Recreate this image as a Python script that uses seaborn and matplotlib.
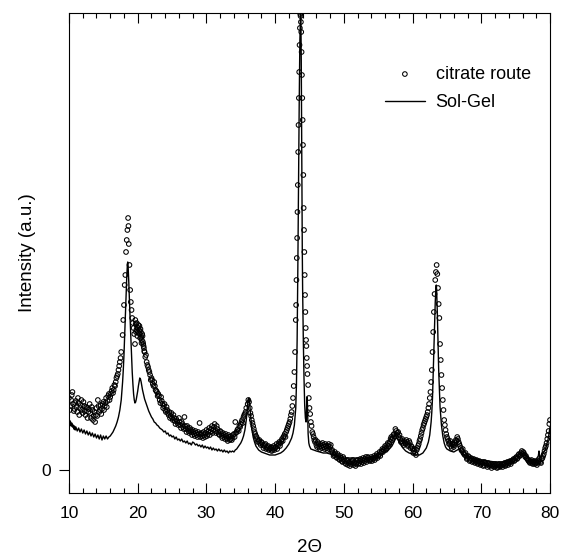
import matplotlib
matplotlib.use("Agg")
import matplotlib.pyplot as plt
import seaborn as sns
from matplotlib.ticker import FixedLocator, MultipleLocator, NullLocator

# ---------------- data ----------------
x_ticks = [10, 20, 30, 40, 50, 60, 70, 80]
y_ticks = [0]
y_tick_labels = ["0"]

# citrate route: scan points (main set)
citrate_2theta = [
    10.0, 10.2, 10.4, 10.6, 10.8, 11.0, 11.2, 11.4, 11.6, 11.8,
    12.0, 12.2, 12.4, 12.6, 12.8, 13.0, 13.2, 13.4, 13.6, 13.8,
    14.0, 14.2, 14.4, 14.6, 14.8, 15.0, 15.2, 15.4, 15.6, 15.8,
    16.0, 16.2, 16.4, 16.6, 16.8, 17.0, 17.2, 17.4, 17.6, 17.8,
    17.9, 18.0, 18.1, 18.2, 18.3, 18.4, 18.5, 18.6, 18.65, 18.7,
    18.8, 18.9, 19.0, 19.1, 19.2, 19.3, 19.4, 19.5, 19.6, 19.7,
    19.8, 19.9, 20.0, 20.1, 20.2, 20.3, 20.4, 20.5, 20.6, 20.7,
    20.8, 20.9, 21.0, 21.1, 21.2, 21.3, 21.4, 21.6, 21.8, 22.0,
    22.2, 22.4, 22.6, 22.8, 23.0, 23.2, 23.4, 23.6, 23.8, 24.0,
    24.2, 24.4, 24.6, 24.8, 25.0, 25.2, 25.4, 25.6, 25.8, 26.0,
    26.2, 26.4, 26.6, 26.8, 27.0, 27.2, 27.4, 27.6, 27.8, 28.0,
    28.2, 28.4, 28.6, 28.8, 29.0, 29.2, 29.4, 29.6, 29.8, 30.0,
    30.2, 30.4, 30.6, 30.8, 31.0, 31.2, 31.4, 31.6, 31.8, 32.0,
    32.2, 32.4, 32.6, 32.8, 33.0, 33.2, 33.4, 33.6, 33.8, 34.0,
    34.2, 34.4, 34.6, 34.8, 35.0, 35.2, 35.4, 35.6, 35.8, 36.0,
    36.1, 36.2, 36.3, 36.4, 36.6, 36.8, 37.0, 37.2, 37.4, 37.6,
    37.8, 38.0, 38.2, 38.4, 38.6, 38.8, 39.0, 39.2, 39.4, 39.6,
    39.8, 40.0, 40.2, 40.4, 40.6, 40.8, 41.0, 41.2, 41.4, 41.6,
    41.8, 42.0, 42.2, 42.4, 42.5, 42.6, 42.7, 42.8, 42.9, 43.0,
    43.05, 43.1, 43.15, 43.2, 43.25, 43.3, 43.35, 43.4, 43.45, 43.5,
    43.55, 43.6, 43.65, 43.7, 43.75, 43.8, 43.85, 43.9, 43.95, 44.0,
    44.05, 44.1, 44.15, 44.2, 44.25, 44.3, 44.35, 44.4, 44.45, 44.5,
    44.55, 44.6, 44.65, 44.7, 44.8, 44.9, 45.0, 45.1, 45.2, 45.3,
    45.4, 45.6, 45.8, 46.0, 46.2, 46.4, 46.6, 46.8, 47.0, 47.2,
    47.4, 47.6, 47.8, 48.0, 48.2, 48.4, 48.6, 48.8, 49.0, 49.2,
    49.4, 49.6, 49.8, 50.0, 50.2, 50.4, 50.6, 50.8, 51.0, 51.2,
    51.4, 51.6, 51.8, 52.0, 52.2, 52.4, 52.6, 52.8, 53.0, 53.2,
    53.4, 53.6, 53.8, 54.0, 54.2, 54.4, 54.6, 54.8, 55.0, 55.2,
    55.4, 55.6, 55.8, 56.0, 56.2, 56.4, 56.6, 56.8, 57.0, 57.2,
    57.4, 57.6, 57.8, 58.0, 58.2, 58.4, 58.6, 58.8, 59.0, 59.2,
    59.4, 59.6, 59.8, 60.0, 60.2, 60.4, 60.6, 60.8, 61.0, 61.2,
    61.4, 61.6, 61.8, 62.0, 62.2, 62.4, 62.6, 62.7, 62.8, 62.9,
    63.0, 63.1, 63.2, 63.3, 63.4, 63.5, 63.6, 63.7, 63.8, 63.9,
    64.0, 64.1, 64.2, 64.3, 64.4, 64.5, 64.6, 64.8, 65.0, 65.2,
    65.4, 65.6, 65.8, 66.0, 66.2, 66.4, 66.6, 66.8, 67.0, 67.2,
    67.4, 67.6, 67.8, 68.0, 68.2, 68.4, 68.6, 68.8, 69.0, 69.2,
    69.4, 69.6, 69.8, 70.0, 70.2, 70.4, 70.6, 70.8, 71.0, 71.2,
    71.4, 71.6, 71.8, 72.0, 72.2, 72.4, 72.6, 72.8, 73.0, 73.2,
    73.4, 73.6, 73.8, 74.0, 74.2, 74.4, 74.6, 74.8, 75.0, 75.2,
    75.4, 75.6, 75.8, 76.0, 76.2, 76.4, 76.6, 76.8, 77.0, 77.2,
    77.4, 77.6, 77.8, 78.0, 78.2, 78.4, 78.6, 78.8, 79.0, 79.2,
    79.4, 79.6, 79.8, 79.9, 80.0,
]
citrate_counts = [
    72, 64, 75, 66, 61, 69, 58, 67, 62, 70,
    57, 64, 55, 62, 58, 66, 52, 60, 54, 48,
    62, 70, 58, 65, 61, 68, 64, 72, 69, 76,
    73, 79, 77, 85, 88, 94, 100, 108, 118, 135,
    150, 165, 185, 195, 218, 230, 240, 252, 244, 226,
    205, 180, 168, 160, 152, 147, 142, 136, 126, 146,
    140, 143, 138, 145, 140, 136, 141, 133, 130, 134,
    126, 122, 118, 113, 115, 108, 105, 100, 95, 92,
    86, 88, 80, 78, 76, 70, 73, 66, 64, 60,
    63, 57, 58, 54, 52, 55, 49, 51, 47, 52,
    45, 48, 43, 53, 41, 44, 39, 42, 38, 40,
    36, 39, 35, 38, 47, 36, 34, 38, 33, 40,
    36, 42, 38, 44, 40, 46, 37, 41, 36, 39,
    34, 37, 33, 36, 31, 35, 30, 34, 32, 36,
    48, 38, 41, 44, 46, 50, 53, 56, 62, 66,
    70, 68, 62, 57, 50, 44, 38, 34, 31, 29,
    27, 28, 25, 24, 26, 22, 24, 21, 23, 20,
    24, 22, 26, 24, 28, 27, 31, 33, 36, 38,
    42, 46, 51, 58, 64, 72, 84, 98, 118, 150,
    165, 190, 212, 232, 258, 285, 318, 345, 372, 398,
    425, 442, 456, 454, 448, 438, 418, 395, 372, 350,
    325, 295, 262, 240, 218, 195, 175, 158, 142, 130,
    124, 112, 104, 96, 85, 72, 62, 56, 48, 44,
    38, 33, 28, 25, 28, 23, 26, 22, 25, 21,
    24, 20, 26, 23, 19, 17, 15, 16, 12, 14,
    10, 12, 8, 11, 7, 9, 5, 8, 6, 9,
    5, 8, 6, 10, 7, 11, 8, 12, 9, 13,
    10, 12, 9, 13, 11, 14, 12, 16, 14, 18,
    17, 21, 20, 24, 22, 27, 26, 31, 30, 35,
    34, 39, 37, 33, 31, 29, 27, 29, 26, 28,
    25, 27, 24, 21, 19, 17, 20, 24, 29, 34,
    40, 45, 49, 53, 58, 66, 78, 88, 100, 118,
    138, 158, 176, 190, 198, 205, 196, 182, 166, 152,
    126, 110, 95, 82, 70, 60, 50, 40, 33, 29,
    27, 24, 26, 23, 27, 29, 31, 26, 22, 19,
    17, 15, 14, 12, 13, 10, 11, 9, 10, 8,
    9, 7, 8, 6, 8, 5, 7, 5, 7, 4,
    6, 4, 6, 4, 5, 3, 6, 4, 6, 5,
    7, 5, 8, 7, 9, 8, 10, 9, 12, 11,
    15, 14, 17, 16, 17, 13, 12, 10, 8, 9,
    7, 8, 6, 8, 7, 9, 8, 11, 14, 19,
    24, 31, 39, 46, 50,
]

# citrate route: intermediate scan points in the noisy background
citrate_2theta_b = [
    10.1, 10.3, 10.5, 10.7, 10.9, 11.1, 11.3, 11.5, 11.7, 11.9,
    12.1, 12.3, 12.5, 12.7, 12.9, 13.1, 13.3, 13.5, 13.7, 13.9,
    14.1, 14.3, 14.5, 14.7, 14.9, 15.1, 15.3, 15.5, 15.7, 15.9,
    16.1, 16.3, 16.5, 16.7, 16.9, 17.1, 17.3, 17.5, 19.65, 19.75,
    19.85, 19.95, 20.05, 20.15, 20.25, 20.35, 20.45, 20.55, 20.65, 20.75,
    20.85, 20.95, 21.5, 21.7, 21.9, 22.1, 22.3, 22.5, 22.7, 22.9,
    23.1, 23.3, 23.5, 23.7, 23.9, 24.1, 24.3, 24.5, 24.7, 24.9,
    25.1, 25.3, 25.5, 25.7, 25.9, 26.1, 26.3, 26.5, 26.7, 26.9,
    27.1, 27.3, 27.5, 27.7, 27.9, 28.1, 28.3, 28.5, 28.7, 28.9,
    29.1, 29.3, 29.5, 29.7, 29.9, 30.1, 30.3, 30.5, 30.7, 30.9,
    31.1, 31.3, 31.5, 31.7, 31.9, 32.1, 32.3, 32.5, 32.7, 32.9,
    33.1, 33.3, 33.5, 33.7, 33.9, 34.1, 34.3, 34.5, 34.7, 34.9,
    35.1, 35.3, 35.5, 35.7, 36.5, 36.7, 36.9, 37.1, 37.3, 37.5,
    37.7, 37.9, 38.1, 38.3, 38.5, 38.7, 38.9, 39.1, 39.3, 39.5,
    39.7, 39.9, 40.1, 40.3, 40.5, 40.7, 40.9, 41.1, 41.3, 41.5,
    41.7, 41.9, 42.1, 42.3, 45.5, 45.7, 45.9, 46.1, 46.3, 46.5,
    46.7, 46.9, 47.1, 47.3, 47.5, 47.7, 47.9, 48.1, 48.3, 48.5,
    48.7, 48.9, 49.1, 49.3, 49.5, 49.7, 49.9, 50.1, 50.3, 50.5,
    50.7, 50.9, 51.1, 51.3, 51.5, 51.7, 51.9, 52.1, 52.3, 52.5,
    52.7, 52.9, 53.1, 53.3, 53.5, 53.7, 53.9, 54.1, 54.3, 54.5,
    54.7, 54.9, 55.1, 55.3, 55.5, 55.7, 55.9, 56.1, 56.3, 56.5,
    56.7, 56.9, 57.1, 57.3, 57.5, 57.7, 57.9, 58.1, 58.3, 58.5,
    58.7, 58.9, 59.1, 59.3, 59.5, 59.7, 59.9, 60.1, 60.3, 60.5,
    60.7, 60.9, 61.1, 61.3, 61.5, 61.7, 61.9, 62.1, 62.3, 62.5,
    64.7, 64.9, 65.1, 65.3, 65.5, 65.7, 65.9, 66.1, 66.3, 66.5,
    66.7, 66.9, 67.1, 67.3, 67.5, 67.7, 67.9, 68.1, 68.3, 68.5,
    68.7, 68.9, 69.1, 69.3, 69.5, 69.7, 69.9, 70.1, 70.3, 70.5,
    70.7, 70.9, 71.1, 71.3, 71.5, 71.7, 71.9, 72.1, 72.3, 72.5,
    72.7, 72.9, 73.1, 73.3, 73.5, 73.7, 73.9, 74.1, 74.3, 74.5,
    74.7, 74.9, 75.1, 75.3, 75.5, 75.7, 75.9, 76.1, 76.3, 76.5,
    76.7, 76.9, 77.1, 77.3, 77.5, 77.7, 77.9, 78.1, 78.3, 78.5,
    78.7, 78.9, 79.1, 79.3, 79.5, 79.7,
]
citrate_counts_b = [
    60, 70, 78, 59, 67, 63, 72, 55, 65, 60,
    68, 59, 63, 52, 61, 57, 63, 50, 58, 55,
    54, 64, 60, 56, 66, 60, 67, 63, 74, 70,
    76, 82, 80, 84, 92, 96, 104, 112, 150, 138,
    147, 134, 142, 137, 144, 132, 138, 127, 136, 128,
    124, 119, 103, 98, 90, 90, 84, 84, 79, 74,
    74, 67, 69, 62, 66, 58, 60, 55, 52, 57,
    50, 52, 46, 49, 45, 48, 42, 46, 41, 44,
    38, 42, 37, 40, 35, 38, 34, 37, 33, 36,
    33, 37, 32, 35, 37, 34, 39, 35, 41, 37,
    43, 39, 44, 38, 35, 38, 32, 35, 31, 34,
    29, 33, 31, 30, 35, 33, 37, 40, 39, 43,
    48, 47, 55, 58, 54, 47, 41, 36, 33, 28,
    30, 25, 27, 22, 25, 21, 23, 20, 22, 19,
    22, 20, 23, 21, 26, 24, 29, 29, 34, 33,
    40, 44, 48, 55, 36, 30, 30, 23, 26, 21,
    24, 27, 23, 26, 22, 24, 21, 25, 20, 14,
    18, 13, 16, 11, 14, 9, 13, 9, 6, 10,
    7, 4, 8, 10, 7, 4, 9, 6, 9, 6,
    10, 7, 11, 8, 13, 10, 11, 9, 12, 10,
    14, 12, 15, 14, 19, 18, 22, 20, 25, 24,
    28, 33, 32, 36, 41, 35, 38, 35, 28, 31,
    25, 27, 30, 24, 29, 22, 23, 17, 21, 15,
    22, 26, 31, 37, 42, 47, 51, 55, 62, 72,
    45, 36, 31, 26, 29, 22, 25, 25, 30, 33,
    28, 24, 20, 21, 16, 17, 11, 14, 9, 12,
    8, 11, 7, 10, 6, 9, 5, 7, 4, 8,
    6, 3, 6, 5, 2, 5, 3, 6, 2, 5,
    3, 5, 3, 6, 4, 7, 5, 8, 6, 9,
    11, 10, 13, 12, 16, 15, 19, 18, 15, 14,
    11, 9, 7, 10, 6, 9, 7, 5, 8, 10,
    7, 12, 16, 22, 27, 35,
]

solgel_2theta = [
    10.0, 10.1, 10.2, 10.3, 10.4, 10.5, 10.6, 10.7, 10.8, 10.9,
    11.0, 11.2, 11.4, 11.6, 11.8, 12.0, 12.2, 12.4, 12.6, 12.8,
    13.0, 13.2, 13.4, 13.6, 13.8, 14.0, 14.2, 14.4, 14.6, 14.8,
    15.0, 15.2, 15.4, 15.6, 15.8, 16.0, 16.2, 16.4, 16.6, 16.8,
    17.0, 17.2, 17.4, 17.6, 17.8, 17.9, 18.0, 18.1, 18.2, 18.3,
    18.4, 18.5, 18.55, 18.6, 18.7, 18.8, 18.9, 19.0, 19.1, 19.2,
    19.3, 19.4, 19.5, 19.6, 19.7, 19.8, 19.9, 20.0, 20.1, 20.2,
    20.3, 20.4, 20.5, 20.6, 20.7, 20.8, 21.0, 21.2, 21.4, 21.6,
    21.8, 22.0, 22.2, 22.4, 22.6, 22.8, 23.0, 23.2, 23.4, 23.6,
    23.8, 24.0, 24.2, 24.4, 24.6, 24.8, 25.0, 25.2, 25.4, 25.6,
    25.8, 26.0, 26.2, 26.4, 26.6, 26.8, 27.0, 27.2, 27.4, 27.6,
    27.8, 28.0, 28.2, 28.4, 28.6, 28.8, 29.0, 29.2, 29.4, 29.6,
    29.8, 30.0, 30.2, 30.4, 30.6, 30.8, 31.0, 31.2, 31.4, 31.6,
    31.8, 32.0, 32.2, 32.4, 32.6, 32.8, 33.0, 33.2, 33.4, 33.6,
    33.8, 34.0, 34.2, 34.4, 34.6, 34.8, 35.0, 35.2, 35.4, 35.6,
    35.8, 35.9, 36.0, 36.1, 36.2, 36.3, 36.4, 36.5, 36.6, 36.8,
    37.0, 37.2, 37.4, 37.6, 37.8, 38.0, 38.4, 38.8, 39.2, 39.6,
    40.0, 40.4, 40.8, 41.2, 41.6, 42.0, 42.4, 42.6, 42.8, 43.0,
    43.1, 43.2, 43.3, 43.4, 43.5, 43.6, 43.7, 43.75, 43.8, 43.85,
    43.9, 43.95, 44.0, 44.1, 44.2, 44.3, 44.4, 44.5, 44.55, 44.6,
    44.65, 44.7, 44.75, 44.8, 44.9, 45.0, 45.2, 45.6, 46.0, 46.5,
    47.0, 47.5, 48.0, 48.5, 49.0, 49.5, 50.0, 51.0, 52.0, 53.0,
    54.0, 54.5, 55.0, 55.5, 56.0, 56.5, 57.0, 57.3, 57.5, 57.7,
    57.9, 58.2, 58.6, 59.0, 59.5, 60.0, 60.5, 61.0, 61.5, 62.0,
    62.3, 62.5, 62.7, 62.8, 62.9, 63.0, 63.1, 63.2, 63.3, 63.4,
    63.45, 63.5, 63.6, 63.7, 63.8, 63.9, 64.0, 64.2, 64.4, 64.6,
    64.8, 65.0, 65.5, 66.0, 66.5, 66.8, 67.0, 67.5, 68.0, 69.0,
    70.0, 71.0, 72.0, 73.0, 74.0, 74.5, 75.0, 75.5, 76.0, 76.3,
    76.6, 77.0, 77.5, 78.0, 78.3, 78.4, 78.5, 78.8, 79.0, 79.3,
    79.5, 79.7, 79.85, 80.0,
]
solgel_counts = [
    50, 46, 49, 44, 47, 43, 45, 41, 44, 40,
    43, 39, 42, 38, 41, 37, 40, 36, 39, 35,
    38, 34, 37, 33, 36, 32, 35, 31, 35, 30,
    34, 31, 34, 31, 33, 34, 36, 38, 41, 44,
    48, 53, 60, 70, 88, 100, 115, 135, 155, 175,
    192, 206, 208, 204, 188, 168, 150, 132, 114, 98,
    86, 76, 70, 67, 68, 71, 75, 79, 84, 88,
    92, 91, 88, 84, 80, 77, 71, 67, 63, 59,
    56, 53, 51, 48, 47, 45, 44, 42, 41, 40,
    38, 39, 36, 37, 34, 35, 33, 34, 31, 33,
    30, 31, 29, 31, 28, 29, 27, 29, 26, 27,
    25, 28, 27, 25, 26, 24, 25, 23, 25, 22,
    24, 22, 23, 21, 23, 20, 22, 20, 21, 19,
    21, 19, 20, 18, 20, 18, 19, 17, 19, 18,
    19, 18, 20, 21, 23, 25, 27, 30, 34, 40,
    50, 58, 66, 71, 72, 66, 57, 49, 42, 33,
    28, 24, 22, 20, 19, 18, 17, 16, 15, 15,
    15, 16, 17, 19, 22, 26, 32, 37, 45, 62,
    85, 130, 200, 285, 365, 430, 456, 450, 410, 340,
    270, 220, 180, 130, 92, 65, 52, 48, 55, 68,
    73, 66, 50, 36, 27, 24, 21, 20, 19, 18,
    17, 17, 16, 15, 14, 13, 12, 12, 12, 12,
    13, 14, 15, 16, 18, 20, 24, 28, 31, 32,
    30, 26, 22, 19, 17, 16, 15, 15, 17, 22,
    28, 35, 48, 58, 72, 95, 120, 145, 168, 182,
    185, 180, 158, 128, 100, 80, 63, 45, 34, 27,
    23, 21, 19, 18, 20, 21, 18, 15, 13, 11,
    10, 9, 8, 8, 10, 11, 13, 15, 17, 16,
    13, 11, 10, 11, 14, 19, 13, 14, 17, 20,
    25, 30, 36, 43,
]

assert len(citrate_2theta) == len(citrate_counts)
assert len(citrate_2theta_b) == len(citrate_counts_b)
assert len(solgel_2theta) == len(solgel_counts)

# ---------------- figure ----------------
sns.set_style("ticks")
plt.rcParams["font.family"] = ["Liberation Sans", "DejaVu Sans"]
plt.rcParams["text.color"] = "black"
plt.rcParams["axes.labelcolor"] = "black"
plt.rcParams["xtick.color"] = "black"
plt.rcParams["ytick.color"] = "black"

W, H = 561, 556
fig = plt.figure(figsize=(W / 100, H / 100), dpi=100)
ax = fig.add_axes([69 / W, (H - 492.5) / H, 481 / W, 480 / H])

sns.scatterplot(x=citrate_2theta + citrate_2theta_b,
                y=citrate_counts + citrate_counts_b,
                ax=ax, marker="o", s=11, facecolors="none",
                edgecolor="black", linewidth=0.75,
                label="citrate route", zorder=2)
sns.lineplot(x=solgel_2theta, y=solgel_counts, ax=ax, color="black",
             linewidth=1.0, estimator=None, sort=False, label="Sol-Gel",
             zorder=3)

ax.set_xlim(10, 80)
ax.set_ylim(-22.5, 457.5)

ax.xaxis.set_major_locator(FixedLocator(x_ticks))
ax.xaxis.set_minor_locator(MultipleLocator(2))
ax.set_yticks(y_ticks)
ax.set_yticklabels(y_tick_labels)
ax.yaxis.set_minor_locator(NullLocator())

ax.tick_params(axis="x", which="major", direction="in", length=7.2, width=0.8,
               top=True, bottom=True, labelsize=12.5, pad=10,
               color="black", labelcolor="black")
ax.tick_params(axis="x", which="minor", direction="in", length=3.6, width=0.8,
               top=True, bottom=True, color="black")
ax.tick_params(axis="y", which="major", direction="out", length=7.4, width=0.8,
               left=True, right=False, labelsize=12.5, pad=5.8,
               color="black", labelcolor="black")

for sp in ax.spines.values():
    sp.set_visible(True)
    sp.set_color("black")
    sp.set_linewidth(0.8)

ax.set_xlabel("2Θ", fontsize=13.5, labelpad=13, color="black")
ax.set_ylabel("Intensity (a.u.)", fontsize=13.5, labelpad=3.5, color="black")

leg = ax.legend(loc="upper left", bbox_to_anchor=(0.657, 0.889), frameon=False,
                fontsize=13, borderpad=0, borderaxespad=0, handlelength=2.2,
                handletextpad=0.6, labelspacing=0.62)
for t in leg.get_texts():
    t.set_color("black")

fig.savefig("out.png", dpi=100)
